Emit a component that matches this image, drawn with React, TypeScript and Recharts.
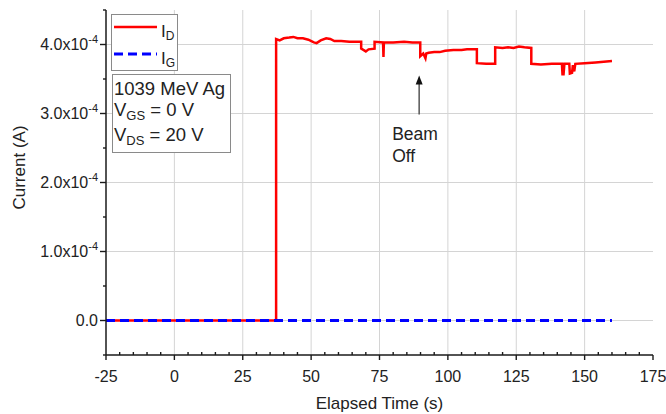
import React from 'react';
import { LineChart, Line, XAxis, YAxis, ReferenceLine, ReferenceDot, Legend } from 'recharts';

const FONT = '"Liberation Sans", Arial, Helvetica, sans-serif';
const TEXT = '#222222';
const AXIS = '#1a1a1a';
const GRID = '#d4d4d4';

// Drain current I_D (A) versus elapsed time (s)
const timeD = [
  -25, 37.2, 37.2, 38.5, 40, 42, 43.5, 45, 47, 49, 51, 52, 53.5, 55.5, 57, 58.5, 61, 64,
  68.3, 68.3, 70, 71, 73.2, 73.2, 76.3, 76.45, 76.6, 80, 84, 87, 89.9, 89.9, 91, 91.8, 92.1,
  93, 95, 97, 99, 102, 105, 107, 110.6, 110.6, 114, 117.3, 117.3, 120, 122, 124, 126, 128,
  130.5, 130.5, 134, 138, 141.7, 141.9, 142.3, 142.6, 144.4, 144.6, 145.4, 145.7, 146.2,
  146.6, 150, 154, 157, 160,
];
const currentD = [
  0, 0, 4.08e-4, 4.06e-4, 4.09e-4, 4.1e-4, 4.11e-4, 4.09e-4, 4.09e-4, 4.07e-4, 4.03e-4,
  4.02e-4, 4.06e-4, 4.09e-4, 4.08e-4, 4.05e-4, 4.05e-4, 4.04e-4,
  4.04e-4, 3.94e-4, 3.9e-4, 3.93e-4, 3.94e-4, 4.04e-4, 4.03e-4, 3.82e-4, 4.03e-4, 4.03e-4,
  4.04e-4, 4.03e-4, 4.03e-4, 3.83e-4, 3.87e-4, 3.8e-4, 3.87e-4,
  3.88e-4, 3.89e-4, 3.89e-4, 3.91e-4, 3.92e-4, 3.92e-4, 3.93e-4, 3.93e-4, 3.73e-4, 3.72e-4,
  3.72e-4, 3.96e-4, 3.95e-4, 3.96e-4, 3.95e-4, 3.97e-4, 3.96e-4,
  3.95e-4, 3.72e-4, 3.71e-4, 3.72e-4, 3.72e-4, 3.57e-4, 3.57e-4, 3.72e-4, 3.72e-4, 3.58e-4,
  3.59e-4, 3.7e-4, 3.61e-4,
  3.72e-4, 3.73e-4, 3.74e-4, 3.75e-4, 3.76e-4,
];

// Gate current I_G (A)
const timeG = [-25, 160];
const currentG = [0, 0];

const xMajorTicks = [-25, 0, 25, 50, 75, 100, 125, 150, 175];
const xAllTicks = [
  -25, -20, -15, -10, -5, 0, 5, 10, 15, 20, 25, 30, 35, 40, 45, 50, 55, 60, 65, 70, 75, 80,
  85, 90, 95, 100, 105, 110, 115, 120, 125, 130, 135, 140, 145, 150, 155, 160, 165, 170, 175,
];
const xGridValues = [0, 25, 50, 75, 100, 125, 150];
const yMajorTicks = [0, 1e-4, 2e-4, 3e-4, 4e-4];
const yAllTicks = [-5e-5, 0, 5e-5, 1e-4, 1.5e-4, 2e-4, 2.5e-4, 3e-4, 3.5e-4, 4e-4, 4.5e-4];

const xDomain = [-25, 175];
const yDomain = [-5e-5, 4.5e-4];

const beamOffTime = 89.5;
const beamOffCurrent = 3.55e-4;
const beamOffText = ['Beam', 'Off'];

const legendItems = [
  { main: 'I', sub: 'D', color: '#ff0000', dash: undefined as string | undefined, width: 2.5 },
  { main: 'I', sub: 'G', color: '#0000ff', dash: '9 5', width: 3 },
];
const infoTitle = '1039 MeV Ag';
const infoLines = [
  { main: 'V', sub: 'GS', rest: ' = 0 V' },
  { main: 'V', sub: 'DS', rest: ' = 20 V' },
];

const dataD = timeD.map((t, i) => ({ t, v: currentD[i] }));
const dataG = timeG.map((t, i) => ({ t, v: currentG[i] }));

const isMajorX = (v: number) => xMajorTicks.indexOf(v) >= 0;
const isMajorY = (v: number) => Math.abs(v * 1e4 - Math.round(v * 1e4)) < 1e-6;

const BottomTick = (props: any) => {
  const { x, y, payload } = props;
  const v = payload.value;
  const major = isMajorX(v);
  return (
    <g>
      {major ? (
        <line x1={x} x2={x} y1={y} y2={y + 5} stroke={AXIS} strokeWidth={1.4} />
      ) : (
        <line x1={x} x2={x} y1={y} y2={y - 3} stroke={AXIS} strokeWidth={1.4} />
      )}
      {major && (
        <text x={x} y={y + 27} textAnchor="middle" fontFamily={FONT} fontSize={16} fill={TEXT}>
          {v}
        </text>
      )}
    </g>
  );
};

const TopTick = (props: any) => {
  const { x, y, payload } = props;
  const major = isMajorX(payload.value);
  return <line x1={x} x2={x} y1={y} y2={y + (major ? 5 : 3)} stroke={AXIS} strokeWidth={1.4} />;
};

const LeftTick = (props: any) => {
  const { x, y, payload } = props;
  const v = payload.value;
  const major = isMajorY(v);
  const n = Math.round(v * 1e5) / 10;
  return (
    <g>
      <line x1={x - (major ? 6 : 3)} x2={x} y1={y} y2={y} stroke={AXIS} strokeWidth={1.4} />
      {major && (
        <text x={x - 8} y={y + 5.5} textAnchor="end" fontFamily={FONT} fontSize={16} fill={TEXT}>
          {n === 0 ? (
            '0.0'
          ) : (
            <>
              {n.toFixed(1) + 'x10'}
              <tspan dy={-7} fontSize={11}>-4</tspan>
            </>
          )}
        </text>
      )}
    </g>
  );
};

const RightTick = (props: any) => {
  const { x, y, payload } = props;
  const major = isMajorY(payload.value);
  return <line x1={x - (major ? 6 : 3)} x2={x} y1={y} y2={y} stroke={AXIS} strokeWidth={1.4} />;
};

const YTitle = (props: any) => {
  const vb = props.viewBox || { x: 0, y: 10, width: 106, height: 345 };
  const cx = 25;
  const cy = vb.y + vb.height / 2 - 15;
  return (
    <text
      x={cx}
      y={cy}
      transform={`rotate(-90 ${cx} ${cy})`}
      textAnchor="middle"
      fontFamily={FONT}
      fontSize={17}
      fill={TEXT}
    >
      Current (A)
    </text>
  );
};

const BeamOffMark = (props: any) => {
  const { cx, cy } = props;
  if (cx == null || cy == null) return null;
  return (
    <g>
      <line x1={cx} x2={cx} y1={cy + 7} y2={cy + 39} stroke="#555" strokeWidth={1.5} />
      <polygon points={`${cx},${cy} ${cx - 3.5},${cy + 9} ${cx + 3.5},${cy + 9}`} fill="#111" />
      {beamOffText.map((s, i) => (
        <text key={s} x={cx - 27} y={cy + 64 + i * 22} fontFamily={FONT} fontSize={17.5} fill={TEXT}>
          {s}
        </text>
      ))}
    </g>
  );
};

const LegendContent = () => (
  <svg width={666} height={414} style={{ position: 'absolute', left: 0, top: 0 }}>
    <rect x={111.5} y={14.5} width={66} height={56} fill="#fff" stroke="#8a8a8a" strokeWidth={1} />
    {legendItems.map((it, i) => {
      const ly = 27 + i * 27;
      return (
        <g key={it.sub}>
          <line x1={114} x2={157} y1={ly} y2={ly} stroke={it.color} strokeWidth={it.width} strokeDasharray={it.dash} />
          <text x={161} y={ly + 10} fontFamily={FONT} fontSize={17} fill={TEXT}>
            {it.main}
            <tspan dy={3} fontSize={12}>{it.sub}</tspan>
          </text>
        </g>
      );
    })}
    <rect x={112.5} y={74.5} width={118} height={78} fill="#fff" stroke="#8a8a8a" strokeWidth={1} />
    <text x={114} y={95} fontFamily={FONT} fontSize={18.5} fill={TEXT}>
      {infoTitle}
    </text>
    {infoLines.map((l, i) => (
      <text key={l.sub} x={114} y={116 + i * 25} fontFamily={FONT} fontSize={18.5} fill={TEXT}>
        {l.main}
        <tspan dy={4} fontSize={13}>{l.sub}</tspan>
        <tspan dy={-4}>{l.rest}</tspan>
      </text>
    ))}
  </svg>
);

export default function App() {
  return (
    <div style={{ position: 'absolute', left: 0, top: 0, width: 666, height: 414, background: '#fff' }}>
      <LineChart width={666} height={414} margin={{ top: 10, right: 13, bottom: 0, left: 0 }}>
        <XAxis
          xAxisId="b"
          type="number"
          dataKey="t"
          domain={xDomain}
          ticks={xAllTicks}
          interval={0}
          tickSize={0}
          tickMargin={0}
          tickLine={false}
          tick={<BottomTick />}
          axisLine={{ stroke: AXIS, strokeWidth: 1.5 }}
          height={59}
          label={{
            value: 'Elapsed Time (s)',
            position: 'insideBottom',
            offset: 5,
            style: { fontFamily: FONT, fontSize: 17, fill: TEXT },
          }}
        />
        <XAxis
          xAxisId="t"
          orientation="top"
          type="number"
          dataKey="t"
          domain={xDomain}
          ticks={xAllTicks}
          interval={0}
          tickSize={0}
          tickMargin={0}
          tickLine={false}
          tick={<TopTick />}
          axisLine={{ stroke: AXIS, strokeWidth: 1.5 }}
          height={0}
        />
        <YAxis
          yAxisId="l"
          type="number"
          domain={yDomain}
          ticks={yAllTicks}
          interval={0}
          tickSize={0}
          tickMargin={0}
          tickLine={false}
          tick={<LeftTick />}
          axisLine={{ stroke: AXIS, strokeWidth: 1.5 }}
          width={106}
          label={<YTitle />}
        />
        <YAxis
          yAxisId="r"
          orientation="right"
          type="number"
          domain={yDomain}
          ticks={yAllTicks}
          interval={0}
          tickSize={0}
          tickMargin={0}
          tickLine={false}
          tick={<RightTick />}
          axisLine={{ stroke: AXIS, strokeWidth: 1.5 }}
          width={0}
        />
        {xGridValues.map((v) => (
          <ReferenceLine key={'gx' + v} xAxisId="b" yAxisId="l" x={v} stroke={GRID} strokeWidth={1} />
        ))}
        {yMajorTicks.map((v) => (
          <ReferenceLine key={'gy' + v} xAxisId="b" yAxisId="l" y={v} stroke={GRID} strokeWidth={1} />
        ))}
        <Line
          xAxisId="b"
          yAxisId="l"
          data={dataD}
          dataKey="v"
          name="I_D"
          type="linear"
          stroke="#ff0000"
          strokeWidth={2.5}
          dot={false}
          activeDot={false}
          isAnimationActive={false}
        />
        <Line
          xAxisId="b"
          yAxisId="l"
          data={dataG}
          dataKey="v"
          name="I_G"
          type="linear"
          stroke="#0000ff"
          strokeWidth={3}
          strokeDasharray="9 5"
          dot={false}
          activeDot={false}
          isAnimationActive={false}
        />
        <ReferenceDot
          xAxisId="b"
          yAxisId="l"
          x={beamOffTime}
          y={beamOffCurrent}
          shape={<BeamOffMark />}
        />
        <Legend
          layout="horizontal"
          verticalAlign="middle"
          align="center"
          content={<LegendContent />}
          wrapperStyle={{ position: 'absolute', left: 0, top: 0, width: 666, height: 414, pointerEvents: 'none' }}
        />
      </LineChart>
    </div>
  );
}
